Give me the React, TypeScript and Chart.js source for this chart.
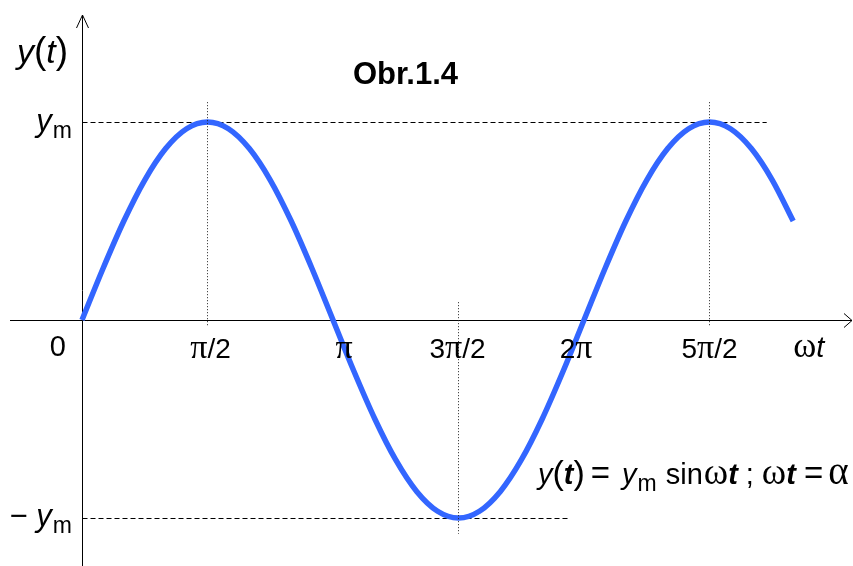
import { useEffect, useRef } from 'react';
import { Chart, registerables } from 'chart.js';

Chart.register(...registerables);

// ωt in degrees, sampled every 15° from 0° to 510°
const angleDeg = [
  0, 15, 30, 45, 60, 75, 90, 105, 120, 135, 150, 165, 180, 195, 210, 225, 240, 255,
  270, 285, 300, 315, 330, 345, 360, 375, 390, 405, 420, 435, 450, 465, 480, 495, 510,
];
// y(t) / y_m at each sample
const yValues = [
  0, 0.259, 0.5, 0.707, 0.866, 0.966, 1, 0.966, 0.866, 0.707, 0.5, 0.259, 0, -0.259, -0.5, -0.707,
  -0.866, -0.966, -1, -0.966, -0.866, -0.707, -0.5, -0.259, 0, 0.259, 0.5, 0.707, 0.866, 0.966, 1,
  0.966, 0.866, 0.707, 0.5,
];
// labelled positions along the ωt axis
const tickValues = [90, 180, 270, 360, 450];
const tickLabels = ['π/2', 'π', '3π/2', '2π', '5π/2'];
const amplitude = 1;
const titleText = 'Obr.1.4';

const SANS = '"Liberation Sans", Arial, sans-serif';
const SERIF = '"Liberation Serif", "Times New Roman", serif';
const BLUE = '#3366ff';

type Run = { t: string; font: string; dy?: number; gap?: number };

const f = (size: number, family = SANS, style = 'normal', weight = 'normal') =>
  `${style} ${weight} ${size}px ${family}`;

// split a label so Greek letters come from the serif face
function textRuns(text: string, size: number): Run[] {
  const runs: Run[] = [];
  for (const ch of text) {
    const greek = /[πωα]/.test(ch);
    const font = greek ? f(Math.round(size * 1.2), SERIF) : f(size);
    const last = runs[runs.length - 1];
    if (last && last.font === font) last.t += ch;
    else runs.push({ t: ch, font });
  }
  return runs;
}

function drawRuns(
  ctx: CanvasRenderingContext2D,
  runs: Run[],
  x: number,
  y: number,
  align: 'left' | 'center' | 'right' = 'left'
) {
  let total = 0;
  for (const r of runs) {
    ctx.font = r.font;
    total += ctx.measureText(r.t).width + (r.gap || 0);
  }
  let cx = align === 'left' ? x : align === 'right' ? x - total : x - total / 2;
  ctx.textAlign = 'left';
  ctx.textBaseline = 'alphabetic';
  for (const r of runs) {
    ctx.font = r.font;
    ctx.fillText(r.t, cx, y + (r.dy || 0));
    cx += ctx.measureText(r.t).width + (r.gap || 0);
  }
}

const crisp = (v: number) => Math.round(v) + 0.5;

const diagramPlugin = {
  id: 'sineDiagram',
  beforeDatasetsDraw(chart: any) {
    const { ctx, chartArea } = chart;
    const xs = chart.scales.x;
    const ys = chart.scales.y;
    const x0 = crisp(xs.getPixelForValue(0));
    const y0 = crisp(ys.getPixelForValue(0));
    ctx.save();
    ctx.strokeStyle = '#000';
    ctx.lineWidth = 1;

    // axes with open arrow heads
    ctx.beginPath();
    ctx.moveTo(x0, chartArea.bottom);
    ctx.lineTo(x0, 15);
    ctx.moveTo(x0 - 6, 28);
    ctx.lineTo(x0, 15);
    ctx.lineTo(x0 + 6, 28);
    ctx.moveTo(10, y0);
    ctx.lineTo(chartArea.right - 1, y0);
    ctx.moveTo(chartArea.right - 9, y0 - 7);
    ctx.lineTo(chartArea.right - 1, y0);
    ctx.lineTo(chartArea.right - 9, y0 + 7);
    ctx.stroke();

    // dashed amplitude levels
    ctx.setLineDash([5, 3]);
    ctx.beginPath();
    ctx.moveTo(x0, crisp(ys.getPixelForValue(amplitude)));
    ctx.lineTo(xs.getPixelForValue(491), crisp(ys.getPixelForValue(amplitude)));
    ctx.moveTo(x0, crisp(ys.getPixelForValue(-amplitude)));
    ctx.lineTo(xs.getPixelForValue(350), crisp(ys.getPixelForValue(-amplitude)));
    ctx.stroke();
    ctx.restore();
  },
  afterDatasetsDraw(chart: any) {
    const { ctx } = chart;
    const xs = chart.scales.x;
    const ys = chart.scales.y;
    ctx.save();
    ctx.strokeStyle = '#222';
    ctx.lineWidth = 1;
    ctx.setLineDash([1, 2]);
    const guides: [number, number, number][] = [
      [90, 1.1, -0.03],
      [270, 0.09, -1.08],
      [450, 1.1, -0.03],
    ];
    ctx.beginPath();
    for (const [v, top, bottom] of guides) {
      const px = crisp(xs.getPixelForValue(v) - 1);
      ctx.moveTo(px, ys.getPixelForValue(top));
      ctx.lineTo(px, ys.getPixelForValue(bottom));
    }
    ctx.stroke();
    ctx.restore();
  },
  afterDraw(chart: any) {
    const { ctx } = chart;
    const xs = chart.scales.x;
    const ys = chart.scales.y;
    const x0 = xs.getPixelForValue(0);
    const y0 = ys.getPixelForValue(0);
    const yTop = ys.getPixelForValue(amplitude);
    const yBot = ys.getPixelForValue(-amplitude);
    ctx.save();
    ctx.fillStyle = '#000';

    // tick labels under the ωt axis
    const shift = [3, 11, -1, -8, 0];
    tickValues.forEach((v, i) => {
      drawRuns(ctx, textRuns(tickLabels[i], 28), xs.getPixelForValue(v) + shift[i], y0 + 38, 'center');
    });
    drawRuns(ctx, [{ t: '0', font: f(29) }], x0 - 16, y0 + 36, 'right');
    drawRuns(
      ctx,
      [
        { t: 'ω', font: f(35, SERIF) },
        { t: 't', font: f(29, SANS, 'italic') },
      ],
      xs.getPixelForValue(510),
      y0 + 37,
      'left'
    );

    // y(t) axis title
    drawRuns(
      ctx,
      [
        { t: 'y', font: f(34, SANS, 'italic') },
        { t: '(', font: f(37) },
        { t: 't', font: f(34, SANS, 'italic') },
        { t: ')', font: f(37) },
      ],
      x0 - 14,
      ys.getPixelForValue(1.3),
      'right'
    );

    // amplitude labels
    drawRuns(
      ctx,
      [
        { t: 'y', font: f(31, SANS, 'italic'), gap: 1 },
        { t: 'm', font: f(23), dy: 7 },
      ],
      x0 - 10,
      yTop + 9,
      'right'
    );
    drawRuns(
      ctx,
      [
        { t: '− ', font: f(31) },
        { t: 'y', font: f(31, SANS, 'italic'), gap: 1 },
        { t: 'm', font: f(23), dy: 7 },
      ],
      x0 - 10,
      yBot + 8,
      'right'
    );

    // figure caption
    drawRuns(ctx, [{ t: titleText, font: f(31, SANS, 'normal', 'bold') }], xs.getPixelForValue(232), ys.getPixelForValue(1.19), 'center');

    // equation of the curve
    const eq = 29;
    const gr = f(37, SERIF);
    drawRuns(
      ctx,
      [
        { t: 'y', font: f(eq, SANS, 'italic') },
        { t: '(', font: f(34) },
        { t: 't', font: f(eq, SANS, 'italic', 'bold') },
        { t: ')', font: f(34), gap: 6 },
        { t: '=', font: f(33), gap: 12 },
        { t: 'y', font: f(eq, SANS, 'italic'), gap: 1 },
        { t: 'm', font: f(23), dy: 7, gap: 9 },
        { t: 'sin', font: f(eq), gap: 1 },
        { t: 'ω', font: gr },
        { t: 't', font: f(eq, SANS, 'italic', 'bold'), gap: 8 },
        { t: ';', font: f(eq), gap: 8 },
        { t: 'ω', font: gr },
        { t: 't', font: f(eq, SANS, 'italic', 'bold'), gap: 8 },
        { t: '=', font: f(33), gap: 5 },
        { t: 'α', font: f(39, SERIF) },
      ],
      xs.getPixelForValue(327),
      ys.getPixelForValue(-0.83),
      'left'
    );
    ctx.restore();
  },
};

export default function App() {
  const canvasRef = useRef<HTMLCanvasElement | null>(null);

  useEffect(() => {
    if (!canvasRef.current) return;
    const pxPerDeg = 1.3945;
    const chart = new Chart(canvasRef.current, {
      type: 'line',
      data: {
        datasets: [
          {
            data: angleDeg.map((a, i) => ({ x: a, y: yValues[i] })),
            borderColor: BLUE,
            borderWidth: 5.5,
            borderCapStyle: 'butt',
            pointRadius: 0,
            cubicInterpolationMode: 'monotone',
            fill: false,
          },
        ],
      },
      options: {
        responsive: false,
        animation: false,
        layout: { padding: 0 },
        plugins: {
          legend: { display: false },
          title: { display: false },
          tooltip: { enabled: false },
        },
        scales: {
          x: { type: 'linear', display: false, min: -82 / pxPerDeg, max: 771 / pxPerDeg },
          y: { type: 'linear', display: false, min: -246 / 198, max: 320 / 198 },
        },
      },
      plugins: [diagramPlugin],
    });
    return () => chart.destroy();
  }, []);

  return (
    <div style={{ position: 'absolute', left: 0, top: 0, width: 853, height: 566, background: '#fff' }}>
      <canvas ref={canvasRef} width={853} height={566} />
    </div>
  );
}
